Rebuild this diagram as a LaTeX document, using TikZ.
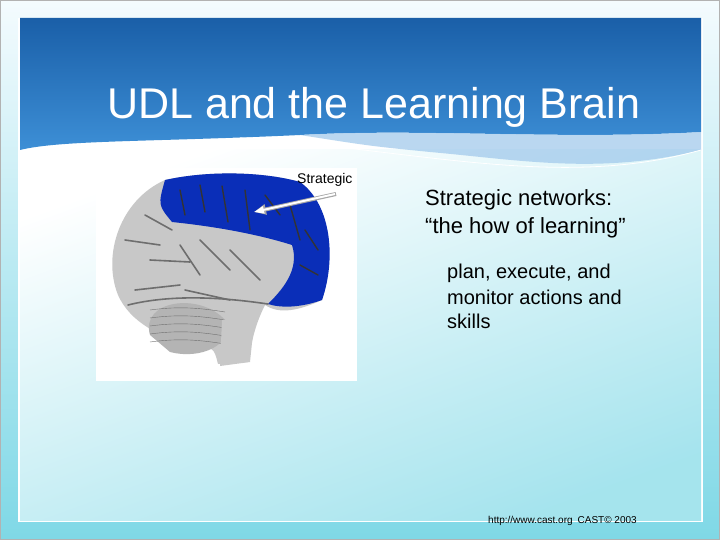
\documentclass[tikz,border=0pt]{standalone}
\usepackage{fontspec}
\setmainfont{Liberation Sans}
\usetikzlibrary{arrows.meta}
\definecolor{bandtop}{HTML}{1A5FA8}
\definecolor{bandlow}{HTML}{3D8FD6}
\definecolor{bgtop}{HTML}{F4FBFE}
\definecolor{bgbot}{HTML}{7FD8E6}
\definecolor{lobe}{HTML}{0A2EB8}
\definecolor{cortex}{HTML}{C8C8C8}
\definecolor{fold}{HTML}{6E6E6E}
\tikzset{
  slidetext/.style={anchor=west, inner sep=0pt, text=black},
  sulcus/.style={fold, line width=1.6pt, line cap=round},
  deepsulcus/.style={black!80, line width=1.4pt, line cap=round},
}
\begin{document}
\begin{tikzpicture}[x=1pt,y=-1pt]
        \useasboundingbox (0,0) rectangle (720,540);
        % Slide background
        \shade[top color=bgtop, bottom color=bgbot] (0,0) rectangle (720,540);
        \draw[gray!60] (0.5,0.5) rectangle (719.5,539.5);
        \fill[white] (18,18) rectangle (703,522);
        \shade[top color=white, bottom color=bgbot!70, shading angle=20] (20,150) rectangle (701,520);
        % Title band
        \shade[top color=bandtop, bottom color=bandlow]
          (20,18) -- (701,18) -- (701,132) .. controls (560,140) and (420,128) .. (300,135)
          .. controls (150,142) and (60,140) .. (20,150) -- cycle;
        \fill[bandlow!50, opacity=0.7]
          (300,135) .. controls (420,128) and (560,140) .. (701,132) -- (701,150)
          .. controls (600,175) and (520,160) .. (430,152) .. controls (370,146) .. (300,135);
        \draw[white, thick] (240,138) .. controls (420,150) and (560,190) .. (701,150);
        \node[slidetext, font=\fontsize{43}{50}\selectfont, text=white] (title) at (107,107) {UDL and the Learning Brain};
        % Brain picture
        \fill[white] (96,168) rectangle (357,381);
        \fill[cortex] (165,180) .. controls (210,170) and (265,172) .. (300,182)
          .. controls (330,205) and (335,260) .. (322,300) .. controls (300,310) and (280,315) .. (265,305)
          .. controls (255,325) and (252,340) .. (248,362) -- (218,364) .. controls (214,348) .. (195,345)
          .. controls (160,338) and (130,322) .. (118,295) .. controls (102,255) and (120,200) .. (165,180) -- cycle;
        \fill[lobe] (165,180) .. controls (210,170) and (265,172) .. (300,182)
          .. controls (332,205) and (336,260) .. (322,300) .. controls (300,308) and (280,308) .. (268,304)
          .. controls (282,290) and (300,270) .. (292,245) .. controls (270,238) and (230,228) .. (172,222)
          .. controls (158,205) .. (165,180) -- cycle;
        \foreach \p in {{(180,190)--(185,215)}, {(200,185)--(205,212)}, {(222,186)--(228,222)}, {(245,190)--(250,230)},
                        {(265,195)--(280,215)}, {(290,205)--(300,240)}, {(305,230)--(318,250)}, {(300,265)--(318,275)}}
          \draw[deepsulcus] \p;
        \foreach \p in {{(125,240)--(160,245)}, {(150,260)--(190,262)}, {(180,245)--(200,275)}, {(200,240)--(230,270)},
                        {(230,250)--(260,280)}, {(135,290)--(180,285)}, {(185,290)--(230,300)}, {(145,215)--(172,230)}}
          \draw[sulcus] \p;
        \draw[sulcus] (128,305) .. controls (180,292) and (240,300) .. (268,304);
        % Cerebellum and brainstem
        \fill[cortex!90!black] (150,335) .. controls (140,300) and (200,292) .. (225,320)
          .. controls (235,345) and (200,360) .. (170,352) -- cycle;
        \foreach \y in {310,318,326,334,342}
          \draw[fold, thin] (150,\y) .. controls (180,\y-4) and (200,\y-2) .. (225,\y+2);
        \fill[cortex] (222,320) -- (255,314) -- (250,362) -- (220,366) -- cycle;
        % Label and arrow
        \node[anchor=west, inner sep=0pt, font=\fontsize{14}{16}\selectfont] (strat) at (297,180) {Strategic};
        \coordinate (tip) at (254,212);
        \draw[-{Triangle[length=12pt,width=10pt]}, gray!70, line width=4pt] (336,194) -- (tip);
        \draw[-{Triangle[length=10pt,width=7pt]}, white, line width=2pt] (335,194) -- (tip);
        % Text
        \node[slidetext, font=\fontsize{22}{26}\selectfont] (head1) at (425,200) {Strategic networks:};
        \node[slidetext, font=\fontsize{22}{26}\selectfont] (head2) at (425,228) {“the how of learning”};
        \node[slidetext, font=\fontsize{20}{24}\selectfont] (sub1) at (447,273) {plan, execute, and};
        \node[slidetext, font=\fontsize{20}{24}\selectfont] (sub2) at (447,297) {monitor actions and};
        \node[slidetext, font=\fontsize{20}{24}\selectfont] (sub3) at (447,321) {skills};
        \node[slidetext, font=\fontsize{10}{12}\selectfont] (foot) at (488,521) {http://www.cast.org\enspace CAST© 2003};
    \end{tikzpicture}
\end{document}
